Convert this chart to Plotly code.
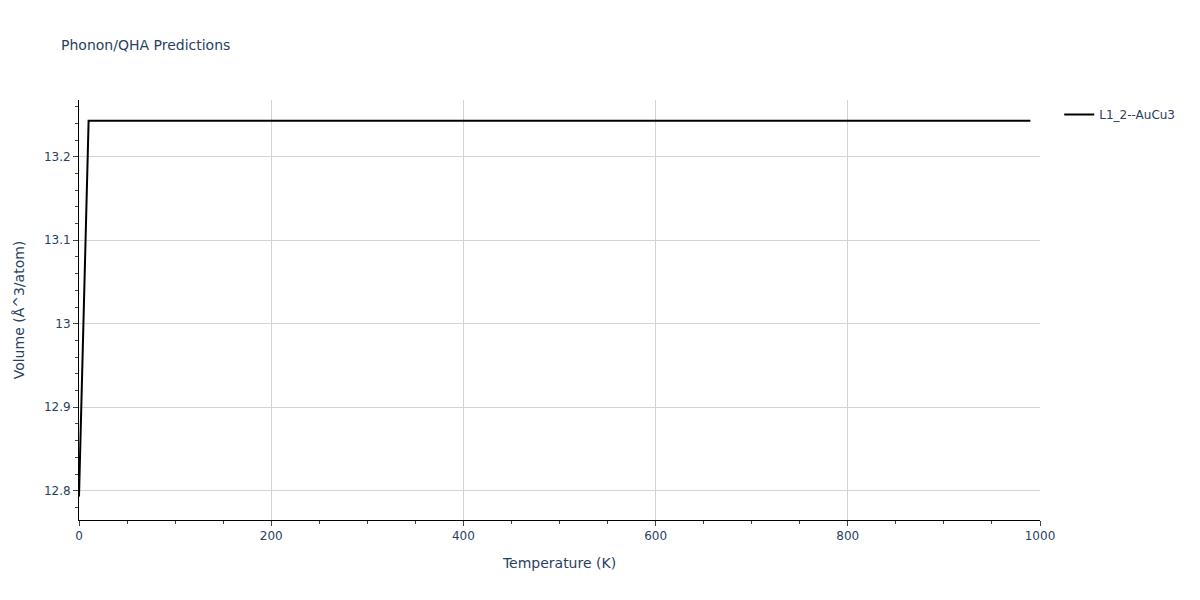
import plotly.graph_objects as go

temperature = [0] + list(range(10, 1000, 10))
volume = [12.793] + [13.243] * (len(temperature) - 1)
series_name = "L1_2--AuCu3"

fig = go.Figure()
fig.add_trace(go.Scatter(x=temperature, y=volume, mode="lines", name=series_name,
                         line=dict(color="black", width=2)))

axis_common = dict(showline=True, linecolor="black", linewidth=1, ticks="outside",
                   showgrid=True, gridcolor="lightgray", zeroline=False)

fig.update_layout(
    width=1184, height=584,
    margin=dict(l=71, r=146, t=92, b=72),
    font=dict(family="Verdana, DejaVu Sans, sans-serif"),
    title=dict(text="Phonon/QHA Predictions", x=53 / 1184, xanchor="left",
               y=1 - 37 / 584, yanchor="middle", font=dict(size=14)),
    plot_bgcolor="white", paper_bgcolor="white",
    showlegend=True,
    xaxis=dict(title="Temperature (K)", range=[0, 1000], dtick=200,
               minor=dict(ticks="outside", dtick=50, showgrid=False),
               **axis_common),
    yaxis=dict(title="Volume (Å^3/atom)", range=[12.765, 13.268], dtick=0.1,
               minor=dict(ticks="outside", dtick=0.02, showgrid=False),
               **axis_common),
)

fig.write_html("out.html")
